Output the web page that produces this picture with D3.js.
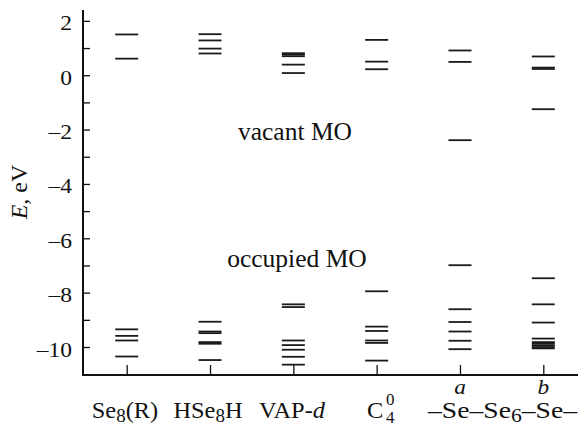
<!DOCTYPE html>
<html><head><meta charset="utf-8">
<script src="https://cdn.jsdelivr.net/npm/d3@7"></script>
<style>body{margin:0;background:#fff}svg{display:block}text{font-family:"Liberation Serif","DejaVu Serif",serif;fill:#111}</style>
</head><body><svg id="c" width="585" height="426"></svg>
<script>
const categories = ["Se8R", "HSe8H", "VAPd", "C40", "a", "b"];
const vacantSe8R  = [1.50, 0.61];
const vacantHSe8H = [1.51, 1.28, 0.98, 0.80];
const vacantVAPd  = [0.81, 0.76, 0.70, 0.39, 0.08];
const vacantC40   = [1.30, 0.50, 0.22];
const vacantA     = [0.91, 0.49, -2.39];
const vacantB     = [0.69, 0.28, 0.23, -1.25];
const occSe8R  = [-9.35, -9.59, -9.76, -10.35];
const occHSe8H = [-9.07, -9.43, -9.49, -9.82, -9.88, -10.48];
const occVAPd  = [-8.43, -8.53, -9.76, -9.93, -10.10, -10.36, -10.65];
const occC40   = [-7.95, -9.25, -9.41, -9.76, -9.85, -10.50];
const occA     = [-6.99, -8.61, -9.08, -9.43, -9.77, -10.08];
const occB     = [-7.47, -8.43, -9.10, -9.69, -9.82, -9.88, -9.94, -10.00, -10.05];
const yMajorTicks = [2, 0, -2, -4, -6, -8, -10];
const yMinorTicks = [1, -1, -3, -5, -7, -9];

(function () {
const levels = [
  [vacantSe8R, occSe8R], [vacantHSe8H, occHSe8H], [vacantVAPd, occVAPd],
  [vacantC40, occC40], [vacantA, occA], [vacantB, occB]
];
const rows = [];
categories.forEach((c, i) => levels[i].forEach(arr => arr.forEach(v => rows.push({c, v}))));

const svg = d3.select("#c");
const pl = 83, pr = 578, pt = 10, pb = 375;
const x = d3.scalePoint().domain(categories).range([126.7, 543.3]);
const y = d3.scaleLinear().domain([-11.03, 2.4]).range([pb, pt]);
const SX = 1.12, SXL = 1.06;

svg.append("g").selectAll("line").data(rows).join("line")
  .attr("x1", d => x(d.c) - 11.5).attr("x2", d => x(d.c) + 11.5)
  .attr("y1", d => y(d.v)).attr("y2", d => y(d.v))
  .attr("stroke", "#1a1a1a").attr("stroke-width", 1.8);

const yAxis = d3.axisRight(y).tickValues(yMajorTicks.concat(yMinorTicks)).tickSize(7).tickFormat("");
const gy = svg.append("g").attr("transform", `translate(${pl},0)`).call(yAxis);
gy.select(".domain").remove();
gy.selectAll(".tick line").attr("stroke", "#111").attr("stroke-width", 1.3);
svg.append("g").selectAll("text").data(yMajorTicks).join("text")
  .attr("transform", d => `translate(72,${y(d) + 9.5}) scale(${SX},1)`)
  .attr("text-anchor", "end")
  .style("font-size", "21px").text(d => d < 0 ? "\u2013" + Math.abs(d) : d);

const xAxis = d3.axisTop(x).tickSize(10).tickFormat("");
const gx = svg.append("g").attr("transform", `translate(0,${pb})`).call(xAxis);
gx.select(".domain").remove();
gx.selectAll(".tick line").attr("stroke", "#111").attr("stroke-width", 1.3);

svg.append("path").attr("d", `M${pl},${pt}V${pb}H${pr}`)
  .attr("fill", "none").attr("stroke", "#111").attr("stroke-width", 2);

const yt = svg.append("text").attr("transform", "translate(27,192) rotate(-90)")
  .attr("text-anchor", "middle").style("font-size", "24px");
yt.append("tspan").style("font-style", "italic").text("E");
yt.append("tspan").text(", eV");

svg.append("text").attr("x", 295).attr("y", 140).attr("text-anchor", "middle")
  .style("font-size", "25.5px").text("vacant MO");
svg.append("text").attr("x", 297).attr("y", 267).attr("text-anchor", "middle")
  .style("font-size", "25.5px").text("occupied MO");

const fs = 23, sub = 18, by = 418;
function lab(cx, anchor) {
  return svg.append("text").attr("transform", `translate(${cx},${by}) scale(${SXL},1)`)
    .attr("text-anchor", anchor || "middle").style("font-size", fs + "px");
}
let t = lab(125);
t.append("tspan").text("Se");
t.append("tspan").attr("dy", 4).style("font-size", sub + "px").text("8");
t.append("tspan").attr("dy", -4).text("(R)");
t = lab(208);
t.append("tspan").text("HSe");
t.append("tspan").attr("dy", 4).style("font-size", sub + "px").text("8");
t.append("tspan").attr("dy", -4).text("H");
t = lab(292);
t.append("tspan").text("VAP-");
t.append("tspan").style("font-style", "italic").text("d");
lab(367, "start").text("C");
svg.append("text").attr("transform", `translate(386,${by + 5}) scale(${SXL},1)`).style("font-size", "16px").text("4");
svg.append("text").attr("transform", `translate(386,${by - 13}) scale(${SXL},1)`).style("font-size", "16px").text("0");
t = svg.append("text").attr("x", 428).attr("y", by).attr("textLength", 149).attr("lengthAdjust", "spacingAndGlyphs")
  .style("font-size", fs + "px");
t.append("tspan").text("\u2013Se\u2013Se");
t.append("tspan").attr("dy", 4).style("font-size", sub + "px").text("6");
t.append("tspan").attr("dy", -4).text("\u2013Se\u2013");
svg.append("text").attr("transform", `translate(${x("a")},394) scale(${SXL},1)`).attr("text-anchor", "middle")
  .style("font-size", "22px").style("font-style", "italic").text("a");
svg.append("text").attr("transform", `translate(${x("b")},394) scale(${SXL},1)`).attr("text-anchor", "middle")
  .style("font-size", "22px").style("font-style", "italic").text("b");
})();
</script></body></html>
